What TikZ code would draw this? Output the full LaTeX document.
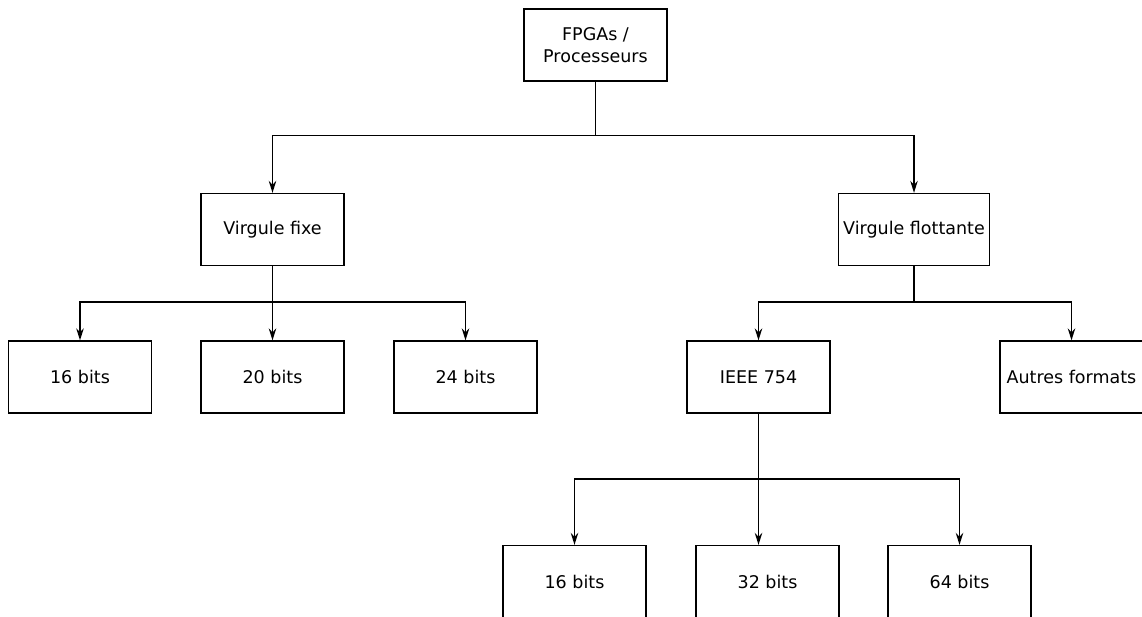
\documentclass[tikz,border=0pt]{standalone}
\usepackage{fontspec}
\setmainfont{DejaVu Sans}
\usetikzlibrary{arrows.meta}
\begin{document}
\begin{tikzpicture}[x=1pt, y=-1pt,
    box/.style={rectangle, draw, line width=1.3pt, minimum width=143pt, minimum height=72pt,
        inner sep=5pt, align=center, font=\fontsize{17.5}{22}\selectfont},
    arr/.style={-{Stealth[length=12pt, width=7.5pt, inset=4pt]}, line width=1.4pt}]
    \useasboundingbox (0,0) rectangle (1142,617);
    % Nodes
    \node[box] (fpga) at (595.5,45) {FPGAs /\\Processeurs};
    \node[box] (fixe) at (272.5,229.5) {Virgule fixe};
    \node[box] (flott) at (914,229.5) {Virgule flottante};
    \node[box] (fixe16) at (80,377) {16 bits};
    \node[box] (fixe20) at (272.5,377) {20 bits};
    \node[box] (fixe24) at (465.5,377) {24 bits};
    \node[box] (ieee) at (758.5,377) {IEEE 754};
    \node[box] (autres) at (1071.5,377) {Autres formats};
    \node[box] (ieee16) at (574.5,581.5) {16 bits};
    \node[box] (ieee32) at (767.5,581.5) {32 bits};
    \node[box] (ieee64) at (959.5,581.5) {64 bits};
    % Bus points
    \coordinate (bus1) at (595.5,135.5);
    \coordinate (bus2) at (272.5,302);
    \coordinate (bus3) at (914,302);
    \coordinate (bus4) at (758.5,479);
    % Edges
    \draw[arr] (fpga.south) -- (bus1) -| (fixe.north);
    \draw[arr] (fpga.south) -- (bus1) -| (flott.north);
    \draw[arr] (fixe.south) -- (bus2) -| (fixe16.north);
    \draw[arr] (fixe.south) -- (fixe20.north);
    \draw[arr] (fixe.south) -- (bus2) -| (fixe24.north);
    \draw[arr] (flott.south) -- (bus3) -| (ieee.north);
    \draw[arr] (flott.south) -- (bus3) -| (autres.north);
    \draw[arr] (ieee.south) -- (bus4) -| (ieee16.north);
    \draw[arr] (ieee.south) -- (ieee.south |- ieee32.north);
    \draw[arr] (ieee.south) -- (bus4) -| (ieee64.north);
\end{tikzpicture}
\end{document}
